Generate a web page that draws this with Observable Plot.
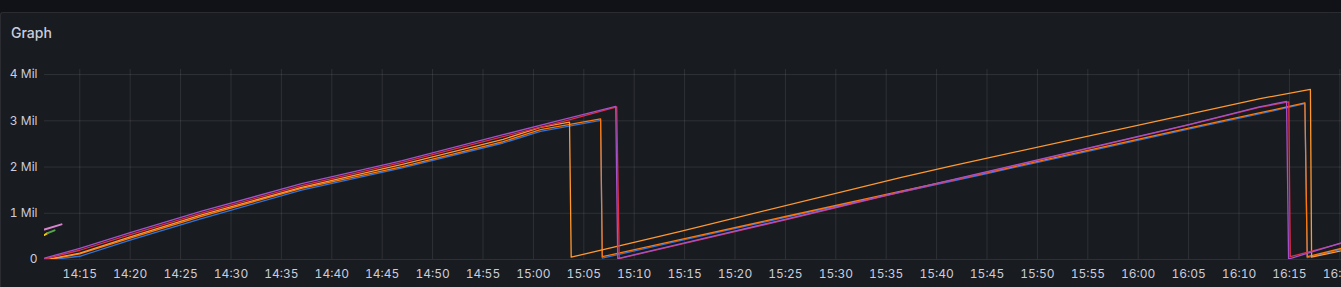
<!DOCTYPE html>
<html>
<head>
<meta charset="utf-8">
<script src="https://cdn.jsdelivr.net/npm/d3@7"></script>
<script src="https://cdn.jsdelivr.net/npm/@observablehq/plot@0.6"></script>
<style>
  html, body { margin: 0; padding: 0; background: #111217; width: 1341px; height: 287px; overflow: hidden; }
  #panel { position: absolute; left: 0; top: 12px; width: 1343px; height: 280px; background: #181b1f;
           border-top: 1px solid #2a2c31; border-left: 1px solid #2a2c31; border-top-left-radius: 3px; box-sizing: border-box; }
  #title { position: absolute; left: 11px; top: 26px; font: 500 14px/14px Inter, sans-serif; color: #ccccdc; white-space: nowrap; }
  #chart { position: absolute; left: 0; top: 60px; }
</style>
</head>
<body>
<div id="panel"></div>
<div id="title">Graph</div>
<div id="chart"></div>
<script>
// ---- Tick labels ----
const xTickLabels = ["14:15","14:20","14:25","14:30","14:35","14:40","14:45","14:50","14:55","15:00","15:05","15:10",
  "15:15","15:20","15:25","15:30","15:35","15:40","15:45","15:50","15:55","16:00","16:05","16:10","16:15","16:20"];
const yTickValues = [0, 1, 2, 3, 4];            // millions
const yTickLabels = ["0", "1 Mil", "2 Mil", "3 Mil", "4 Mil"];
const xDomain = ["14:11:30", "16:20:10"];
const yDomain = [0, 4.11];

// ---- Series (values in millions) ----
const seriesNames  = ["yellow", "green", "pink", "blue", "darkOrange", "lightOrange", "red", "purple"];
const seriesColors = ["#F2CC0C", "#56A64B", "#D683CE", "#3274D9", "#FF780A", "#FF9830", "#E02F44", "#A352CC"];

const yellowTimes  = ["14:11:30", "14:11:48"];
const yellowValues = [0.53, 0.57];

const greenTimes  = ["14:11:48", "14:12:30"];
const greenValues = [0.57, 0.63];

const pinkTimes  = ["14:11:30", "14:13:11"];
const pinkValues = [0.65, 0.76];

const blueTimes  = ["14:12:20","14:15:00","14:20:00","14:27:00","14:37:00","14:47:00","14:57:00","15:00:42","15:06:40","15:06:50",
  "15:15:00","15:25:00","15:35:00","15:45:00","15:55:00","16:05:00","16:12:00","16:16:32","16:16:46","16:20:10"];
const blueValues = [0.00, 0.07, 0.42, 0.88, 1.50, 1.98, 2.52, 2.77, 3.01, 0.03,
  0.43, 0.91, 1.39, 1.86, 2.34, 2.82, 3.15, 3.37, 0.04, 0.22];

const darkOrangeTimes  = ["14:12:00","14:15:00","14:20:00","14:27:00","14:37:00","14:47:00","14:57:00","15:00:42","15:06:40","15:06:50",
  "15:15:00","15:25:00","15:35:00","15:45:00","15:55:00","16:05:00","16:12:00","16:16:32","16:16:46","16:20:10"];
const darkOrangeValues = [0.00, 0.12, 0.46, 0.93, 1.54, 2.01, 2.55, 2.81, 3.04, 0.06,
  0.45, 0.93, 1.41, 1.88, 2.36, 2.84, 3.17, 3.39, 0.06, 0.24];

const lightOrangeTimes  = ["14:11:50","14:15:00","14:20:00","14:27:00","14:37:00","14:47:00","14:57:00","15:00:42","15:03:35","15:03:45",
  "15:14:36","15:36:24","15:41:24","16:12:06","16:17:05","16:17:12","16:20:10"];
const lightOrangeValues = [0.00, 0.14, 0.49, 0.96, 1.56, 2.06, 2.60, 2.86, 2.97, 0.05,
  0.61, 1.77, 2.02, 3.48, 3.68, 0.05, 0.19];

const redTimes  = ["14:11:30","14:15:00","14:20:00","14:27:00","14:37:00","14:47:00","14:57:00","15:03:00","15:08:16","15:08:31",
  "15:15:00","15:25:00","15:35:00","15:45:00","15:55:00","16:05:00","16:12:00","16:14:56","16:15:05","16:20:10"];
const redValues = [0.01, 0.20, 0.54, 1.00, 1.60, 2.10, 2.66, 2.99, 3.30, 0.02,
  0.35, 0.86, 1.38, 1.89, 2.40, 2.91, 3.29, 3.41, 0.06, 0.35];

const purpleTimes  = ["14:11:30","14:15:00","14:20:00","14:27:00","14:37:00","14:47:00","14:57:00","15:03:00","15:08:10","15:08:22",
  "15:15:00","15:25:00","15:35:00","15:45:00","15:55:00","16:05:00","16:12:00","16:14:43","16:14:55","16:20:10"];
const purpleValues = [0.03, 0.24, 0.58, 1.04, 1.64, 2.14, 2.70, 3.03, 3.31, 0.02,
  0.36, 0.87, 1.39, 1.90, 2.41, 2.92, 3.30, 3.42, 0.01, 0.36];

// ---- Build rows ----
const toDate = s => new Date("2024-01-01T" + (s.length === 5 ? s + ":00" : s) + "Z");
const seriesTimes  = {yellow: yellowTimes, green: greenTimes, pink: pinkTimes, blue: blueTimes, darkOrange: darkOrangeTimes,
  lightOrange: lightOrangeTimes, red: redTimes, purple: purpleTimes};
const seriesValues = {yellow: yellowValues, green: greenValues, pink: pinkValues, blue: blueValues, darkOrange: darkOrangeValues,
  lightOrange: lightOrangeValues, red: redValues, purple: purpleValues};
const shortSeries = new Set(["yellow", "green", "pink"]);

const xTickDates = xTickLabels.map(toDate);
const fmt = d3.utcFormat("%H:%M");
const yLabel = new Map(yTickValues.map((v, i) => [v, yTickLabels[i]]));

const gridColor = "#ccccdc";
const lineMarks = seriesNames.map((name, i) => {
  const rows = seriesTimes[name].map((t, j) => ({time: toDate(t), value: seriesValues[name][j]}));
  return Plot.line(rows, {x: "time", y: "value", stroke: seriesColors[i],
    strokeWidth: shortSeries.has(name) ? 2 : 1.3, clip: true});
});

const chart = Plot.plot({
  width: 1341,
  height: 227,
  marginTop: 9,
  marginBottom: 28,
  marginLeft: 44,
  marginRight: 0,
  style: {background: "transparent", color: "#ccccdc", fontFamily: "Inter, sans-serif", fontSize: "12px", overflow: "visible"},
  x: {type: "utc", domain: xDomain.map(toDate)},
  y: {domain: yDomain},
  marks: [
    Plot.gridY(yTickValues, {stroke: gridColor, strokeOpacity: 0.12}),
    Plot.gridX(xTickDates, {stroke: gridColor, strokeOpacity: 0.12}),
    Plot.axisY(yTickValues, {tickSize: 0, tickPadding: 7, tickFormat: v => yLabel.get(v), label: null, fill: "#ccccdc"}),
    Plot.axisX(xTickDates, {tickSize: 0, tickPadding: 10, tickFormat: fmt, label: null, fill: "#ccccdc"}),
    ...lineMarks
  ]
});
document.getElementById("chart").appendChild(chart);
</script>
</body>
</html>
